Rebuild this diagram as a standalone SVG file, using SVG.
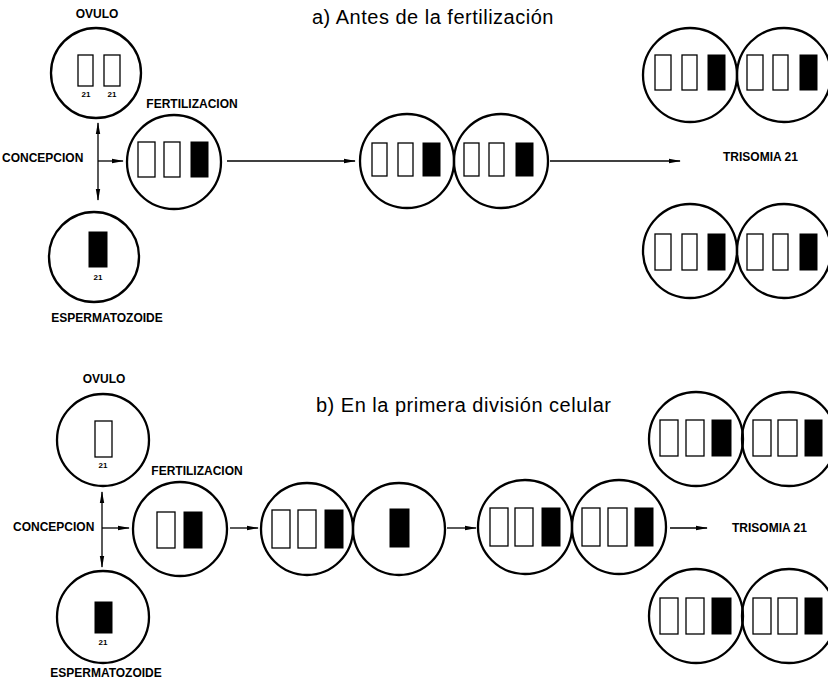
<svg xmlns="http://www.w3.org/2000/svg" width="828" height="687" viewBox="0 0 828 687">
<defs>
<style>
.c{fill:none;stroke:#000;stroke-width:2.3}
.w{fill:#fff;stroke:#000;stroke-width:1.3}
.b{fill:#000;stroke:#000;stroke-width:1}
.ln{fill:none;stroke:#000;stroke-width:1.3}
.lb{font-family:"Liberation Sans",Arial,sans-serif;font-size:12px;font-weight:bold;fill:#000}
.sm{font-family:"Liberation Sans",Arial,sans-serif;font-size:8px;font-weight:bold;fill:#000}
.tt{font-family:"Liberation Sans",Arial,sans-serif;font-size:20px;letter-spacing:0.5px;fill:#000}
</style>
<marker id="ah" markerWidth="12" markerHeight="6" refX="11" refY="3" orient="auto-start-reverse" markerUnits="userSpaceOnUse">
<path d="M0,0.8 L12,3 L0,5.2 z" fill="#000"/>
</marker>
</defs>
<rect width="828" height="687" fill="#fff"/>

<text class="tt" x="312" y="24">a) Antes de la fertilización</text>
<text class="tt" x="316" y="412">b) En la primera división celular</text>

<g id="connectors">
<line class="ln" x1="98" y1="123" x2="98" y2="200" marker-start="url(#ah)" marker-end="url(#ah)"/>
<line class="ln" x1="98" y1="161" x2="123" y2="161" marker-end="url(#ah)"/>
<line class="ln" x1="227" y1="161" x2="355" y2="161" marker-end="url(#ah)"/>
<line class="ln" x1="550" y1="161" x2="680" y2="161" marker-end="url(#ah)"/>
<line class="ln" x1="102" y1="492" x2="102" y2="567" marker-start="url(#ah)" marker-end="url(#ah)"/>
<line class="ln" x1="102" y1="528" x2="129" y2="528" marker-end="url(#ah)"/>
<line class="ln" x1="230" y1="528" x2="258" y2="528" marker-end="url(#ah)"/>
<line class="ln" x1="447" y1="528" x2="476" y2="528" marker-end="url(#ah)"/>
<line class="ln" x1="670" y1="528" x2="707" y2="528" marker-end="url(#ah)"/>
</g>

<g id="ovulo-a">
<text class="lb" x="97" y="18" text-anchor="middle">OVULO</text>
<circle class="c" cx="96" cy="73" r="45"/>
<rect class="w" x="78" y="55" width="15" height="31"/>
<rect class="w" x="104" y="55" width="16" height="31"/>
<text class="sm" x="86" y="97" text-anchor="middle">21</text>
<text class="sm" x="112" y="97" text-anchor="middle">21</text>
</g>

<g id="concepcion-a">
<text class="lb" x="2" y="162">CONCEPCION</text>
</g>

<g id="esperm-a">
<circle class="c" cx="94" cy="257" r="45"/>
<rect class="b" x="89" y="232" width="18" height="35"/>
<text class="sm" x="98" y="280" text-anchor="middle">21</text>
<text class="lb" x="107" y="322" text-anchor="middle">ESPERMATOZOIDE</text>
</g>

<g id="fert-a">
<text class="lb" x="192" y="108" text-anchor="middle">FERTILIZACION</text>
<circle class="c" cx="174" cy="162" r="47"/>
<rect class="w" x="138" y="142" width="17" height="35"/>
<rect class="w" x="164" y="142" width="16" height="35"/>
<rect class="b" x="191" y="142" width="17" height="35"/>
</g>

<g id="pair-a">
<circle class="c" cx="407" cy="161" r="47"/>
<rect class="w" x="372" y="143" width="15" height="33"/>
<rect class="w" x="398" y="143" width="15" height="33"/>
<rect class="b" x="423" y="143" width="17" height="33"/>
<circle class="c" cx="501" cy="161" r="47"/>
<rect class="w" x="464" y="143" width="15" height="33"/>
<rect class="w" x="489" y="143" width="15" height="33"/>
<rect class="b" x="516" y="143" width="17" height="33"/>
</g>

<g id="trisomia-a">
<text class="lb" x="723" y="161">TRISOMIA 21</text>
</g>

<g id="result-a-top">
<circle class="c" cx="690" cy="75" r="47"/>
<rect class="w" x="655" y="55" width="16" height="35"/>
<rect class="w" x="682" y="55" width="15" height="35"/>
<rect class="b" x="708" y="55" width="17" height="35"/>
<circle class="c" cx="784" cy="75" r="47"/>
<rect class="w" x="747" y="55" width="16" height="35"/>
<rect class="w" x="773" y="55" width="15" height="35"/>
<rect class="b" x="800" y="55" width="17" height="35"/>
</g>

<g id="result-a-bottom">
<circle class="c" cx="690" cy="251" r="47"/>
<rect class="w" x="655" y="234" width="16" height="36"/>
<rect class="w" x="682" y="234" width="15" height="36"/>
<rect class="b" x="708" y="234" width="17" height="36"/>
<circle class="c" cx="784" cy="251" r="47"/>
<rect class="w" x="747" y="234" width="16" height="36"/>
<rect class="w" x="773" y="234" width="15" height="36"/>
<rect class="b" x="800" y="234" width="17" height="36"/>
</g>

<g id="ovulo-b">
<text class="lb" x="104" y="383" text-anchor="middle">OVULO</text>
<circle class="c" cx="103" cy="440" r="46"/>
<rect class="w" x="95" y="421" width="17" height="36"/>
<text class="sm" x="103" y="468" text-anchor="middle">21</text>
</g>

<g id="concepcion-b">
<text class="lb" x="13" y="531">CONCEPCION</text>
</g>

<g id="esperm-b">
<circle class="c" cx="103" cy="617" r="46"/>
<rect class="b" x="95" y="602" width="17" height="31"/>
<text class="sm" x="103" y="645" text-anchor="middle">21</text>
<text class="lb" x="106" y="677" text-anchor="middle">ESPERMATOZOIDE</text>
</g>

<g id="fert-b">
<text class="lb" x="197" y="475" text-anchor="middle">FERTILIZACION</text>
<circle class="c" cx="180" cy="529" r="47"/>
<rect class="w" x="157" y="512" width="18" height="36"/>
<rect class="b" x="184" y="512" width="18" height="36"/>
</g>

<g id="pair-b1">
<circle class="c" cx="307" cy="529" r="46"/>
<rect class="w" x="272" y="510" width="18" height="38"/>
<rect class="w" x="298" y="510" width="18" height="38"/>
<rect class="b" x="325" y="510" width="18" height="38"/>
<circle class="c" cx="399" cy="529" r="46"/>
<rect class="b" x="390" y="509" width="19" height="38"/>
</g>

<g id="pair-b2">
<circle class="c" cx="525" cy="527" r="47"/>
<rect class="w" x="490" y="508" width="18" height="38"/>
<rect class="w" x="515" y="508" width="18" height="38"/>
<rect class="b" x="542" y="508" width="18" height="38"/>
<circle class="c" cx="619" cy="527" r="47"/>
<rect class="w" x="582" y="508" width="18" height="38"/>
<rect class="w" x="608" y="508" width="19" height="38"/>
<rect class="b" x="635" y="508" width="18" height="38"/>
</g>

<g id="trisomia-b">
<text class="lb" x="732" y="532">TRISOMIA 21</text>
</g>

<g id="result-b-top">
<circle class="c" cx="696" cy="439" r="47"/>
<rect class="w" x="660" y="420" width="18" height="36"/>
<rect class="w" x="686" y="420" width="18" height="36"/>
<rect class="b" x="712" y="420" width="19" height="36"/>
<circle class="c" cx="789" cy="439" r="47"/>
<rect class="w" x="753" y="420" width="18" height="36"/>
<rect class="w" x="778" y="420" width="19" height="36"/>
<rect class="b" x="805" y="420" width="17" height="36"/>
</g>

<g id="result-b-bottom">
<circle class="c" cx="696" cy="616" r="47"/>
<rect class="w" x="660" y="598" width="18" height="36"/>
<rect class="w" x="686" y="598" width="18" height="36"/>
<rect class="b" x="712" y="598" width="19" height="36"/>
<circle class="c" cx="789" cy="616" r="47"/>
<rect class="w" x="753" y="598" width="18" height="36"/>
<rect class="w" x="778" y="598" width="19" height="36"/>
<rect class="b" x="805" y="598" width="17" height="36"/>
</g>
</svg>
